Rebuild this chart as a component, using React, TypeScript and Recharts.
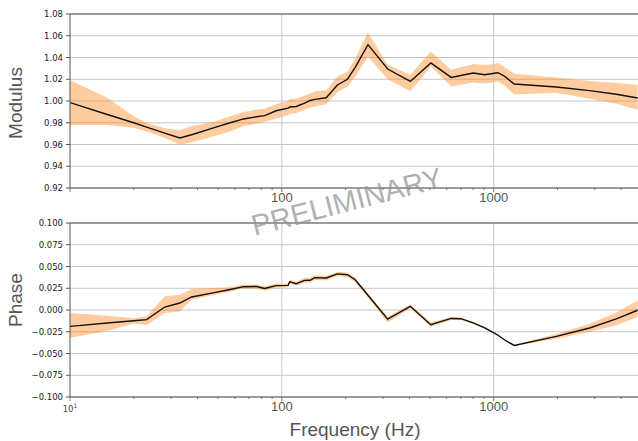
import React from 'react';
import { ComposedChart, Area, Line, XAxis, YAxis, CartesianGrid, ReferenceLine } from 'recharts';

// frequency samples (Hz), shared by both panels
const FREQ = [10, 15, 20, 23, 28, 33, 37.5, 48, 57, 66, 76, 83, 94, 107, 109, 117, 128, 136, 143, 162, 183, 204, 222, 255, 316, 404, 505, 630, 700, 800, 907, 1007, 1048, 1127, 1250, 1976, 2836, 3792, 4780];

const MOD = [0.9985, 0.9876, 0.98, 0.976, 0.9704, 0.966, 0.969, 0.9755, 0.98, 0.9835, 0.9855, 0.9865, 0.991, 0.9935, 0.9945, 0.995, 0.998, 1.0005, 1.0015, 1.003, 1.0147, 1.02, 1.031, 1.0518, 1.0294, 1.018, 1.035, 1.0217, 1.0235, 1.0258, 1.0242, 1.0255, 1.026, 1.0226, 1.0156, 1.0129, 1.0095, 1.0062, 1.0028];
const MOD_LO = [0.978, 0.978, 0.9755, 0.972, 0.966, 0.96, 0.962, 0.9675, 0.972, 0.977, 0.979, 0.981, 0.984, 0.987, 0.988, 0.989, 0.992, 0.994, 0.995, 0.997, 1.008, 1.013, 1.022, 1.041, 1.02, 1.009, 1.0318, 1.0134, 1.015, 1.017, 1.016, 1.017, 1.018, 1.014, 1.006, 1.0075, 1.002, 0.9975, 0.992];
const MOD_HI = [1.019, 1.003, 0.986, 0.98, 0.975, 0.973, 0.977, 0.981, 0.986, 0.99, 0.992, 0.993, 0.997, 1.0, 1.002, 1.002, 1.005, 1.007, 1.009, 1.01, 1.0226, 1.027, 1.039, 1.063, 1.0334, 1.0242, 1.0456, 1.0288, 1.031, 1.034, 1.033, 1.034, 1.035, 1.031, 1.025, 1.0215, 1.0185, 1.0165, 1.015];

const PHASE = [-0.0188, -0.015, -0.0124, -0.0111, 0.0034, 0.008, 0.015, 0.02, 0.0235, 0.0268, 0.027, 0.0248, 0.028, 0.0283, 0.0325, 0.0302, 0.034, 0.0342, 0.0372, 0.0368, 0.0415, 0.0405, 0.0348, 0.017, -0.0105, 0.0042, -0.0169, -0.0097, -0.01, -0.0149, -0.0205, -0.0266, -0.029, -0.0345, -0.0407, -0.0303, -0.0207, -0.0103, -0.0003];
const PHASE_LO = [-0.032, -0.024, -0.0155, -0.0175, -0.0035, -0.0016, 0.0118, 0.0176, 0.021, 0.025, 0.0245, 0.0222, 0.026, 0.0262, 0.03, 0.028, 0.0312, 0.0315, 0.0345, 0.034, 0.039, 0.038, 0.032, 0.0145, -0.0145, 0.002, -0.019, -0.0115, -0.0115, -0.0162, -0.0215, -0.0278, -0.03, -0.0355, -0.0415, -0.033, -0.025, -0.0175, -0.008];
const PHASE_HI = [-0.0035, -0.0065, -0.0095, -0.0073, 0.0157, 0.0176, 0.0241, 0.0253, 0.0262, 0.0292, 0.0292, 0.0272, 0.0305, 0.0302, 0.035, 0.0325, 0.037, 0.037, 0.04, 0.0392, 0.044, 0.043, 0.0372, 0.019, -0.0075, 0.0062, -0.0145, -0.008, -0.0085, -0.0135, -0.0195, -0.0255, -0.028, -0.0335, -0.04, -0.0275, -0.0158, -0.003, 0.011];

const MOD_TICKS = [0.92, 0.94, 0.96, 0.98, 1.0, 1.02, 1.04, 1.06, 1.08];
const PHASE_TICKS = [-0.1, -0.075, -0.05, -0.025, 0, 0.025, 0.05, 0.075, 0.1];
const FREQ_TICKS = [10, 20, 30, 40, 50, 60, 70, 80, 90, 100, 200, 300, 400, 500, 600, 700, 800, 900, 1000, 2000, 3000, 4000];
const MAJOR = [10, 100, 1000];

const rows = FREQ.map((f, i) => ({
  f,
  mod: MOD[i],
  modBand: [MOD_LO[i], MOD_HI[i]],
  phase: PHASE[i],
  phaseBand: [PHASE_LO[i], PHASE_HI[i]],
}));

const SPINE = '#555';
const GRID = '#c6c6c6';
const BAND = '#ff7f0e';
const LABEL_FONT = '"Liberation Sans", Arial, sans-serif';
const TICK_FONT = '"DejaVu Sans", sans-serif';

const fmt = (d: number) => (v: number) => {
  const s = Math.abs(v).toFixed(d);
  return v < -1e-9 ? '\u2212' + s : s;
};

const FreqTick = (props: any) => {
  const { x, y, payload, showTen } = props;
  const v = payload.value;
  const major = MAJOR.includes(v);
  let label: React.ReactNode = null;
  if (v === 10 && showTen) {
    label = (
      <text x={x} y={y + 15} textAnchor="middle" fontSize={8.5} fill="#444" fontFamily={TICK_FONT}>
        10<tspan dy={-4} fontSize={6}>1</tspan>
      </text>
    );
  } else if (v === 100 || v === 1000) {
    label = (
      <text x={x} y={y + 14} textAnchor="middle" fontSize={13} fill="#555" fontFamily={LABEL_FONT}>
        {v}
      </text>
    );
  }
  return (
    <g>
      <line x1={x} x2={x} y1={y} y2={y + (major ? 4 : 2)} stroke={SPINE} strokeWidth={0.8} />
      {label}
    </g>
  );
};

const Panel = ({ valueKey, bandKey, domain, ticks, digits, height, showTen }: any) => (
  <ComposedChart width={638} height={height} data={rows} margin={{ top: 14, right: 0, bottom: 0, left: 0 }}>
    <CartesianGrid vertical={false} stroke={GRID} horizontalValues={ticks} />
    <ReferenceLine x={100} stroke={GRID} />
    <ReferenceLine x={1000} stroke={GRID} />
    <XAxis
      dataKey="f"
      type="number"
      scale="log"
      domain={[10, 4800]}
      ticks={FREQ_TICKS}
      interval={0}
      height={height - 14 - 174}
      tickSize={0}
      tickMargin={0}
      tickLine={false}
      axisLine={{ stroke: SPINE }}
      tick={<FreqTick showTen={showTen} />}
      allowDataOverflow
    />
    <YAxis
      type="number"
      domain={domain}
      ticks={ticks}
      interval={0}
      width={70}
      tickSize={4}
      tickMargin={3}
      tickFormatter={fmt(digits)}
      tick={{ fontSize: 8.5, fill: '#222', fontFamily: TICK_FONT }}
      tickLine={{ stroke: SPINE }}
      axisLine={{ stroke: SPINE }}
      allowDataOverflow
    />
    <ReferenceLine y={domain[1]} stroke={SPINE} />
    <Area type="linear" dataKey={bandKey} stroke="none" fill={BAND} fillOpacity={0.4} isAnimationActive={false} />
    <Line type="linear" dataKey={valueKey} stroke="#111" strokeWidth={1.4} dot={false} isAnimationActive={false} />
  </ComposedChart>
);

const label = (text: string, x: number, y: number, rotate = 0, extra: React.CSSProperties = {}) => (
  <div
    style={{
      position: 'absolute',
      left: x,
      top: y,
      transform: `translate(-50%, -50%) rotate(${rotate}deg)`,
      fontFamily: LABEL_FONT,
      fontSize: 19,
      color: '#555',
      lineHeight: 1,
      whiteSpace: 'nowrap',
      ...extra,
    }}
  >
    {text}
  </div>
);

export default function App() {
  return (
    <div style={{ position: 'absolute', left: 0, top: 0, width: 638, height: 441, background: '#fff', overflow: 'hidden' }}>
      <div style={{ position: 'absolute', left: 0, top: 0 }}>
        <Panel valueKey="mod" bandKey="modBand" domain={[0.92, 1.08]} ticks={MOD_TICKS} digits={2} height={215} showTen={false} />
      </div>
      <div style={{ position: 'absolute', left: 0, top: 209 }}>
        <Panel valueKey="phase" bandKey="phaseBand" domain={[-0.1, 0.1]} ticks={PHASE_TICKS} digits={3} height={218} showTen />
      </div>
      {label('Modulus', 14.5, 103, -90)}
      {label('Phase', 14.5, 300, -90)}
      {label('Frequency (Hz)', 355, 429, 0)}
      {label('PRELIMINARY', 347, 202, -14.5, { fontSize: 29, color: 'rgba(150,150,150,0.75)' })}
    </div>
  );
}
